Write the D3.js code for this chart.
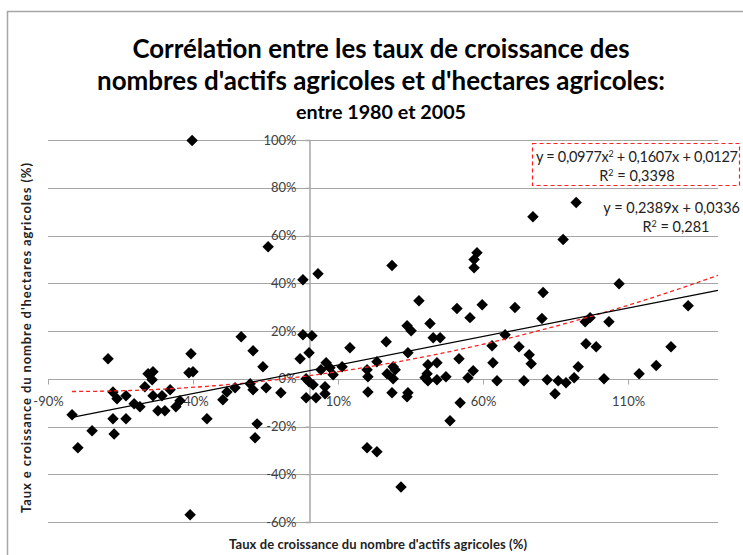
<!DOCTYPE html>
<html>
<head>
<meta charset="utf-8">
<script src="https://cdn.jsdelivr.net/npm/d3@7"></script>
<style>
  body { margin: 0; background: #fff; }
  svg { display: block; font-family: Lato, "Open Sans", sans-serif; }
</style>
</head>
<body>
<svg id="chart" width="743" height="555"></svg>
<script>
// growth of farm workers (%), growth of farm hectares (%)
const xVals = [-81.7, -79.7, -74.8, -69.3, -67.6, -66.2, -67.6, -67.2, -63.1, -63.1,
  -60.3, -58.3, -56.6, -55.5, -53.8, -54.1, -53.8, -52.1, -50.7, -49.7,
  -47.9, -45.9, -44.5, -41.4, -40.0, -40.7, -41.0, -35.2, -29.7, -28.3,
  -25.5, -23.4, -20.3, -19.3, -19.3, -18.6, -17.9, -15.9, -14.8, -9.7,
  -3.1, -2.1, 0.0, 1.0, -1.0, 0.0, 1.4, -1.0, 2.4, 4.1,
  5.9, 7.2, 8.3, 5.5, 5.5, 11.4, 14.1, 20.0, 20.3, 20.3,
  20.0, 23.4, 23.4, 26.6, 26.9, 29.0, 29.7, 29.0, 28.6, 34.1,
  34.1, 33.8, 33.8, 35.2, 41.7, 42.8, 45.2, 41.0, 44.1, 40.7,
  40.0, 41.0, 44.1, 47.2, 51.7, 52.1, 48.6, 54.8, 56.6, 63.1,
  63.4, 64.8, 67.6, 72.4, 75.9, 76.6, 74.1, 82.1, 84.8, 85.9,
  88.6, 91.4, 92.8, 95.5, 99.0, 101.7, 95.2, 96.9, 103.4, 113.8,
  119.7, 124.8, 130.7, 106.9, 31.7, -40.3, -14.1, -2.1, 3.1, 28.6,
  37.9, 51.0, 55.5, 59.7, 57.9, 56.9, 56.9, 71.0, 77.2, 80.7,
  80.3, 87.6, 92.1];
const yVals = [-15.1, -28.9, -21.8, 8.4, -5.5, -8.4, -16.8, -23.1, -7.1, -16.8,
  -10.5, -11.7, -3.4, 2.1, 2.9, -0.4, -7.1, -13.4, -7.1, -13.4,
  -4.6, -11.7, -9.2, 2.5, 2.9, 10.5, -57.0, -16.8, -8.8, -5.5,
  -3.8, 17.6, -2.1, -4.6, 11.7, -24.7, -18.9, 5.0, -3.8, -5.9,
  8.4, 18.4, 10.9, 18.0, 0.0, -1.3, -2.5, -8.0, -8.0, 3.8,
  6.7, 4.6, 1.7, -3.4, -6.3, 5.0, 13.0, 3.8, 0.8, -5.5,
  -28.9, -30.6, 7.1, 15.5, 2.1, 5.0, 3.8, 0.0, -5.9, 10.9,
  -5.9, -7.5, 22.2, 20.1, 23.1, 17.2, 17.2, 5.9, 6.7, 2.1,
  0.4, -0.8, -0.4, 0.8, 8.4, -10.1, -17.6, 0.4, 3.4, 13.8,
  6.7, -0.8, 18.4, 13.4, 10.1, 6.3, -0.8, -0.4, -6.3, -0.8,
  -1.7, 0.4, 5.0, 14.7, 13.4, 0.0, 23.9, 25.6, 23.9, 2.1,
  5.5, 13.4, 30.6, 39.8, -45.3, 99.8, 55.3, 41.5, 44.0, 47.4,
  32.7, 29.4, 25.6, 31.0, 52.8, 49.9, 46.5, 29.8, 67.9, 36.1,
  25.2, 58.3, 73.8];

const xTicks = [-90, -40, 10, 60, 110];
const yTicks = [-60, -40, -20, 0, 20, 40, 60, 80, 100];

// trendline coefficients (fractions), as printed on the chart
const linCoef = [0.2389, 0.0336];
const polyCoef = [0.0977, 0.1607, 0.0127];

const titleLines = ["Corrélation entre les taux de croissance des",
  "nombres d'actifs agricoles et d'hectares agricoles:",
  "entre 1980 et 2005"];

const data = xVals.map((x, i) => ({ x: x, y: yVals[i] }));

const svg = d3.select("#chart");
const grey = "#a6a6a6";

// outer chart frame
svg.append("rect")
  .attr("x", 7.5).attr("y", 11.5)
  .attr("width", 760).attr("height", 560)
  .attr("fill", "none").attr("stroke", grey).attr("stroke-width", 1.5);

// title
const titleSpec = [
  { y: 58, size: 26, len: 497 },
  { y: 90, size: 26, len: 568 },
  { y: 119, size: 19, len: 170 }
];
titleLines.forEach((t, i) => {
  svg.append("text")
    .attr("x", 381).attr("y", titleSpec[i].y)
    .attr("text-anchor", "middle")
    .attr("font-weight", "bold")
    .attr("font-size", titleSpec[i].size)
    .attr("textLength", titleSpec[i].len)
    .attr("lengthAdjust", "spacingAndGlyphs")
    .attr("fill", "#000")
    .text(t);
});

const xScale = d3.scaleLinear().domain([-90, 141]).range([48, 718]);
const yScale = d3.scaleLinear().domain([-60, 100]).range([522, 140]);

// horizontal gridlines
svg.append("g")
  .selectAll("line")
  .data(yTicks)
  .join("line")
  .attr("x1", xScale.range()[0]).attr("x2", xScale.range()[1])
  .attr("y1", d => Math.round(yScale(d)) + 0.5)
  .attr("y2", d => Math.round(yScale(d)) + 0.5)
  .attr("stroke", grey).attr("stroke-width", 1.2);

// y axis at x = 0
const yAxis = d3.axisLeft(yScale)
  .tickValues(yTicks)
  .tickSize(4)
  .tickPadding(9)
  .tickFormat(d => d + "%");
const yAxisG = svg.append("g")
  .attr("transform", `translate(${Math.round(xScale(0)) + 0.5},0)`)
  .call(yAxis);
yAxisG.select(".domain").attr("stroke", grey).attr("stroke-width", 1.5);
yAxisG.selectAll(".tick line").attr("stroke", grey);
yAxisG.selectAll("text")
  .attr("font-size", 13).attr("fill", "#404040")
  .attr("font-family", "Lato, sans-serif");

// x axis at y = 0
const xAxis = d3.axisBottom(xScale)
  .tickValues(xTicks)
  .tickSize(5)
  .tickPadding(12)
  .tickFormat(d => d + "%");
const xAxisG = svg.append("g")
  .attr("transform", `translate(0,${Math.round(yScale(0)) + 0.5})`)
  .call(xAxis);
xAxisG.select(".domain").remove();
xAxisG.selectAll(".tick line").attr("stroke", grey);
xAxisG.selectAll("text")
  .attr("font-size", 13).attr("fill", "#404040")
  .attr("font-family", "Lato, sans-serif");

// trendlines
const xMin = d3.min(xVals);
const xMax = xScale.domain()[1];
const linF = x => 100 * (linCoef[0] * x / 100 + linCoef[1]);
const polyF = x => { const f = x / 100; return 100 * (polyCoef[0] * f * f + polyCoef[1] * f + polyCoef[2]); };
const samples = d3.range(0, 101).map(i => xMin + (xMax - xMin) * i / 100);
const line = d3.line().x(d => xScale(d[0])).y(d => yScale(d[1]));

// markers
const diamond = d3.symbol(d3.symbolSquare, 66);
svg.append("g")
  .selectAll("path")
  .data(data)
  .join("path")
  .attr("d", diamond)
  .attr("transform", d => `translate(${xScale(d.x)},${yScale(d.y)}) rotate(45)`)
  .attr("fill", "#000");

svg.append("path")
  .attr("d", line(samples.map(x => [x, polyF(x)])))
  .attr("fill", "none").attr("stroke", "#ff2020")
  .attr("stroke-width", 1.3).attr("stroke-dasharray", "4,3");

svg.append("path")
  .attr("d", line([[xMin, linF(xMin)], [xMax, linF(xMax)]]))
  .attr("fill", "none").attr("stroke", "#000").attr("stroke-width", 1.2);

// equation labels
svg.append("rect")
  .attr("x", 532.5).attr("y", 143.5).attr("width", 207).attr("height", 42)
  .attr("fill", "#fff").attr("stroke", "#ff2020")
  .attr("stroke-width", 1.2).attr("stroke-dasharray", "4,3");
const eq = svg.append("g").attr("font-size", 14.5).attr("fill", "#222").attr("text-anchor", "middle");
eq.append("text").attr("x", 637).attr("y", 162)
  .attr("textLength", 202).attr("lengthAdjust", "spacing")
  .html("y = 0,0977x<tspan font-size='9' dy='-5'>2</tspan><tspan dy='5'> + 0,1607x + 0,0127</tspan>");
eq.append("text").attr("x", 637).attr("y", 181)
  .html("R<tspan font-size='9' dy='-5'>2</tspan><tspan dy='5'> = 0,3398</tspan>");
eq.append("text").attr("x", 740).attr("y", 213).attr("text-anchor", "end")
  .text("y = 0,2389x + 0,0336");
eq.append("text").attr("x", 676).attr("y", 232)
  .html("R<tspan font-size='9' dy='-5'>2</tspan><tspan dy='5'> = 0,281</tspan>");

// axis titles
svg.append("text")
  .attr("x", 378).attr("y", 549)
  .attr("text-anchor", "middle")
  .attr("font-weight", "bold").attr("font-size", 13)
  .attr("textLength", 298).attr("lengthAdjust", "spacing")
  .attr("fill", "#222")
  .text("Taux de croissance  du nombre d'actifs agricoles (%)");

svg.append("text")
  .attr("transform", "translate(31,338) rotate(-90)")
  .attr("text-anchor", "middle")
  .attr("font-weight", "bold").attr("font-size", 13)
  .attr("textLength", 350).attr("lengthAdjust", "spacing")
  .attr("fill", "#222")
  .text("Taux e croissance  du nombre d'hectares agricoles (%)");
</script>
</body>
</html>
